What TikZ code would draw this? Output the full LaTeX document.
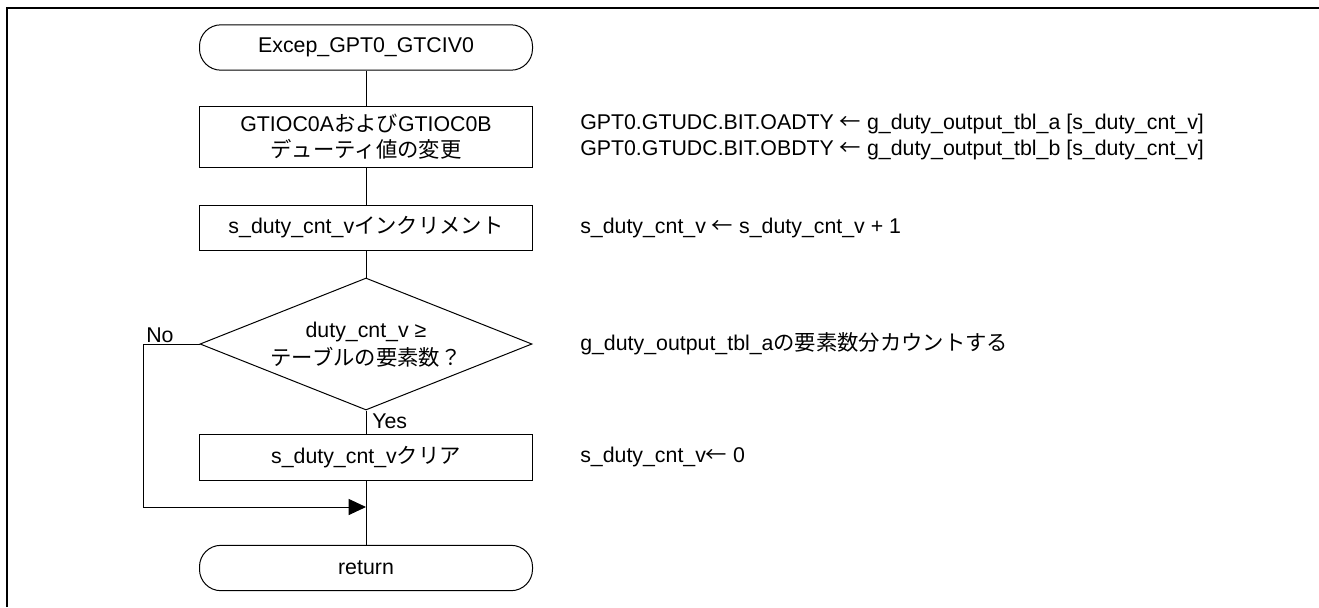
\documentclass[tikz,border=0pt]{standalone}
\usepackage{fontspec}
\setmainfont{Liberation Sans}
\newfontfamily\jpfont{Noto Sans CJK JP}
\newcommand\jp[1]{{\jpfont #1}}
\newcommand\larr{{\jpfont ←}}
\usetikzlibrary{shapes.geometric,arrows.meta}
\begin{document}
\begin{tikzpicture}[x=0.75pt,y=-0.75pt,
  every node/.style={font=\fontsize{16pt}{20pt}\selectfont},
  term/.style={draw,line width=0.75pt,rounded corners=16pt,minimum width=249.75pt,minimum height=34pt,inner sep=0pt,align=center},
  proc/.style={draw,line width=0.75pt,minimum width=249.75pt,inner sep=0pt,align=center},
  dec/.style={draw,line width=0.75pt,diamond,aspect=2.5,minimum width=249pt,minimum height=99pt,inner sep=0pt},
  note/.style={anchor=west,inner sep=0pt,align=left},
  flow/.style={line width=0.75pt},
  lbl/.style={inner sep=0pt}]
\useasboundingbox (0,0) rectangle (1319,607);
\draw[line width=1.6pt] (7,607) -- (7,8) -- (1319,8);

\node[term] (start) at (366,47.5) {Excep\_GPT0\_GTCIV0};
\node[proc,minimum height=45.75pt] (b1) at (366,136.5) {GTIOC0A\jp{および}GTIOC0B\\\jp{デューティ値の変更}};
\node[proc,minimum height=33.75pt] (b2) at (366,227.5) {s\_duty\_cnt\_v\jp{インクリメント}};
\node[dec] (d) at (366,344) {};
\node[lbl] (dt1) at (366,332) {duty\_cnt\_v ≥};
\node[lbl] (dt2) at (366,357) {\jp{テーブルの要素数？}};
\node[proc,minimum height=34.5pt] (b3) at (366,457) {s\_duty\_cnt\_v\jp{クリア}};
\node[term] (ret) at (366,568) {return};

\coordinate (nl) at (143,344);
\coordinate (nb) at (143,507);
\coordinate (m) at (366,507);

\draw[flow] (start) -- (b1);
\draw[flow] (b1) -- (b2);
\draw[flow] (b2) -- (d.north);
\draw[flow] (d.south) -- (b3);
\draw[flow] (b3) -- (ret);
\draw[flow] (d.west) -- (nl) -- (nb);
\draw[flow,-{Triangle[length=13pt,width=12pt]}] (nb) -- (m);

\node[lbl,anchor=south west] (no) at (146,343) {No};
\node[lbl,anchor=west] (yes) at (372,421) {Yes};

\node[note] (n1) at (580,137) {GPT0.GTUDC.BIT.OADTY \larr{} g\_duty\_output\_tbl\_a [s\_duty\_cnt\_v]\\GPT0.GTUDC.BIT.OBDTY \larr{} g\_duty\_output\_tbl\_b [s\_duty\_cnt\_v]};
\node[note] (n2) at (580,227.5) {s\_duty\_cnt\_v \larr{} s\_duty\_cnt\_v + 1};
\node[note] (n3) at (580,344) {g\_duty\_output\_tbl\_a\jp{の要素数分カウントする}};
\node[note] (n4) at (580,457) {s\_duty\_cnt\_v\larr{} 0};
\end{tikzpicture}
\end{document}
